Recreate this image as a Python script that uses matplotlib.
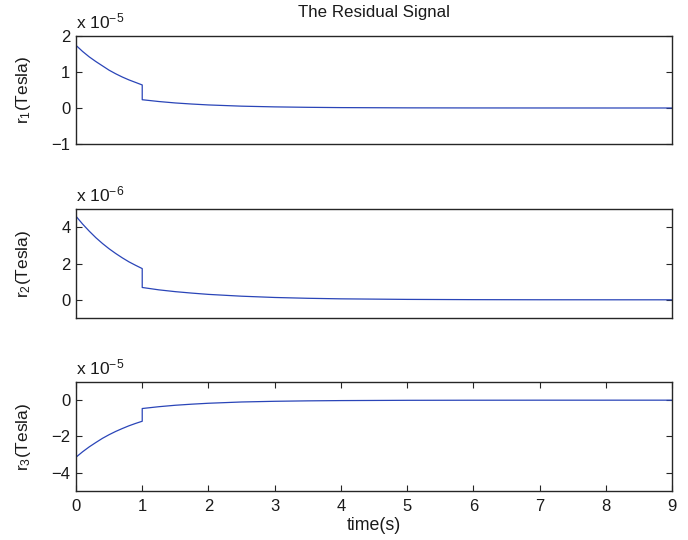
import matplotlib
matplotlib.use("Agg")
import matplotlib.pyplot as plt

plt.rcParams['font.family'] = ['Liberation Sans', 'DejaVu Sans']
plt.rcParams['mathtext.fontset'] = 'custom'
plt.rcParams['mathtext.rm'] = 'Liberation Sans'
plt.rcParams['mathtext.it'] = 'Liberation Sans'
plt.rcParams['mathtext.default'] = 'regular'

# time samples (s): before the step at t=1 and after it
t_pre = [0.0, 0.1, 0.2, 0.3, 0.4, 0.5, 0.6, 0.7, 0.8, 0.9, 1.0]
t_post = [1.0, 1.25, 1.5, 1.75, 2.0, 2.5, 3.0, 3.5, 4.0, 5.0, 6.0, 7.0, 8.0, 9.0]

# r1 in units of 1e-5 Tesla
r1_pre = [1.74, 1.57, 1.42, 1.29, 1.17, 1.05, 0.95, 0.86, 0.78, 0.71, 0.64]
r1_post = [0.23, 0.18, 0.14, 0.11, 0.085, 0.051, 0.031, 0.019, 0.011, 0.004, 0.0015, 0.0006, 0.0002, 0.0001]

# r2 in units of 1e-6 Tesla
r2_pre = [4.60, 4.17, 3.78, 3.42, 3.10, 2.81, 2.55, 2.31, 2.09, 1.90, 1.72]
r2_post = [0.68, 0.55, 0.45, 0.37, 0.30, 0.20, 0.13, 0.085, 0.055, 0.024, 0.010, 0.004, 0.002, 0.001]

# r3 in units of 1e-5 Tesla
r3_pre = [-3.14, -2.84, -2.57, -2.33, -2.10, -1.90, -1.72, -1.56, -1.41, -1.28, -1.16]
r3_post = [-0.46, -0.36, -0.28, -0.22, -0.17, -0.10, -0.062, -0.038, -0.023, -0.008, -0.003, -0.001, -0.0004, -0.0001]

exponents = [-5, -6, -5]
ylabels = ["r$_1$(Tesla)", "r$_2$(Tesla)", "r$_3$(Tesla)"]
ylims = [(-1, 2), (-1, 5), (-5, 1)]
yticks = [[-1, 0, 1, 2], [0, 2, 4], [-4, -2, 0]]
xticks = [0, 1, 2, 3, 4, 5, 6, 7, 8, 9]

series = [(r1_pre, r1_post), (r2_pre, r2_post), (r3_pre, r3_post)]

fig = plt.figure(figsize=(6.88, 5.40), dpi=100)
W, H = 688, 540
boxes = [(36, 144), (209, 318), (382, 491)]
line_color = '#2a45b8'
frame_color = '#262626'
text_color = '#1a1a1a'

for i, ((pre, post), (top, bot)) in enumerate(zip(series, boxes)):
    ax = fig.add_axes([76 / W, 1 - bot / H, 596 / W, (bot - top) / H])
    t_all = t_pre + t_post
    y_all = list(pre) + list(post)
    ax.plot(t_all, y_all, color=line_color, lw=0.9)
    ax.set_xlim(0, 9)
    ax.set_ylim(*ylims[i])
    ax.set_yticks(yticks[i])
    for s in ax.spines.values():
        s.set_color(frame_color)
        s.set_linewidth(1.0)
    ax.tick_params(direction='in', length=4, width=0.8, colors=frame_color,
                   labelsize=12, labelcolor=text_color, right=True, top=True, pad=4)
    ax.tick_params(axis='x', pad=6)
    if i < 2:
        ax.set_xticks([])
    else:
        ax.set_xticks(xticks)
        ax.set_xlabel("time(s)", fontsize=12.8, color=text_color, labelpad=2)
    ax.set_ylabel(ylabels[i], fontsize=12.5, color=text_color)
    ax.yaxis.set_label_coords(-0.072, 0.5)
    ax.annotate("x 10$^{%d}$" % exponents[i], xy=(0, 1), xycoords='axes fraction',
                xytext=(0, 3), textcoords='offset points', ha='left', va='bottom',
                fontsize=12.5, color=text_color)
    if i == 0:
        ax.set_title("The Residual Signal", fontsize=12.2, color=text_color, pad=14)

fig.savefig("out.png", dpi=100)
